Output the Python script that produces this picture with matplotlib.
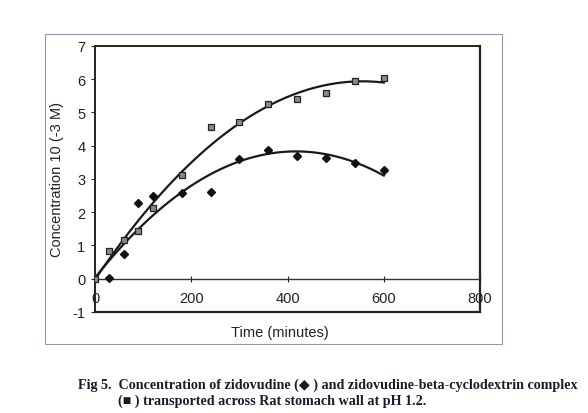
import numpy as np
import matplotlib
matplotlib.use("Agg")
import matplotlib.pyplot as plt
from matplotlib.patches import Rectangle

plt.rcParams["font.family"] = ["Liberation Sans", "DejaVu Sans"]
plt.rcParams["axes.unicode_minus"] = False

time_min = [0, 30, 60, 90, 120, 180, 240, 300, 360, 420, 480, 540, 600]
complex_conc = [0.0, 0.82, 1.15, 1.43, 2.14, 3.11, 4.55, 4.72, 5.25, 5.40, 5.59, 5.94, 6.04]
zidovudine_t = [30, 60, 90, 120, 180, 240, 300, 360, 420, 480, 540, 600]
zidovudine_conc = [0.02, 0.74, 2.29, 2.49, 2.58, 2.61, 3.59, 3.86, 3.68, 3.64, 3.48, 3.26]
x_ticks = [0, 200, 400, 600, 800]
y_ticks = [-1, 0, 1, 2, 3, 4, 5, 6, 7]

fig = plt.figure(figsize=(5.88, 4.14), dpi=100)
fig.patch.set_facecolor("white")
ax = fig.add_axes([0.1616, 0.244, 0.6548, 0.6425])
ax.set_facecolor("white")

# outer chart border
fig.add_artist(Rectangle((45/588, 1-345/414), (502-45)/588, (345-35)/414,
                         transform=fig.transFigure, fill=False, lw=0.8, ec="#9098a8"))

# trendlines (2nd-order polynomial fits)
tt = np.linspace(0, 600, 200)
p1 = np.polyfit(time_min, complex_conc, 2)
zt = [0] + zidovudine_t
zc = [0.0] + zidovudine_conc
p2 = np.polyfit(zt, zc, 2)
ax.plot(tt, np.polyval(p1, tt), color="#1a1a1a", lw=1.6, zorder=2)
ax.plot(tt, np.polyval(p2, tt), color="#1a1a1a", lw=1.6, zorder=2)

ax.plot(time_min, complex_conc, ls="none", marker="s", ms=4.6, mfc="#8a8a8a",
        mec="#222222", mew=0.9, zorder=3)
ax.plot(zidovudine_t, zidovudine_conc, ls="none", marker="D", ms=4, mfc="#111111",
        mec="#111111", zorder=3)

ax.set_xlim(0, 800)
ax.set_ylim(-1, 7)
ax.set_xticks(x_ticks)
ax.set_yticks(y_ticks)
ax.spines["bottom"].set_position(("data", 0))
ax.spines["left"].set_color("#222222")
ax.spines["left"].set_linewidth(1.4)
ax.spines["right"].set_color("#222222")
ax.spines["right"].set_linewidth(1.6)
ax.spines["top"].set_color("#222222")
ax.spines["top"].set_linewidth(1.4)
ax.spines["bottom"].set_color("#333333")
ax.spines["bottom"].set_linewidth(1.0)
# frame bottom edge at y = -1
ax.axhline(-1, color="#222222", lw=1.6, clip_on=False, zorder=5)
ax.tick_params(axis="x", direction="inout", length=5, pad=6, labelsize=10.5,
               colors="#222222")
ax.tick_params(axis="y", direction="out", length=3, pad=4, labelsize=10.5,
               colors="#222222")

ax.set_ylabel("Concentration 10 (-3 M)", fontsize=10.5, color="#222222", labelpad=6)
fig.text(280/588, 1-333/414, "Time (minutes)", ha="center", va="center",
         fontsize=10.5, color="#222222")

cap_font = dict(family=["Liberation Serif", "DejaVu Serif"], fontweight="bold",
                fontsize=10.2, color="#1a1a2a")
fig.text(78/588, 1-385/414,
         "Fig 5.  Concentration of zidovudine (\u25c6 ) and zidovudine-beta-cyclodextrin complex",
         ha="left", va="center", **cap_font)
fig.text(118/588, 1-401/414,
         "(\u25a0 ) transported across Rat stomach wall at pH 1.2.",
         ha="left", va="center", **cap_font)

fig.savefig("out.png", dpi=100, facecolor="white")
